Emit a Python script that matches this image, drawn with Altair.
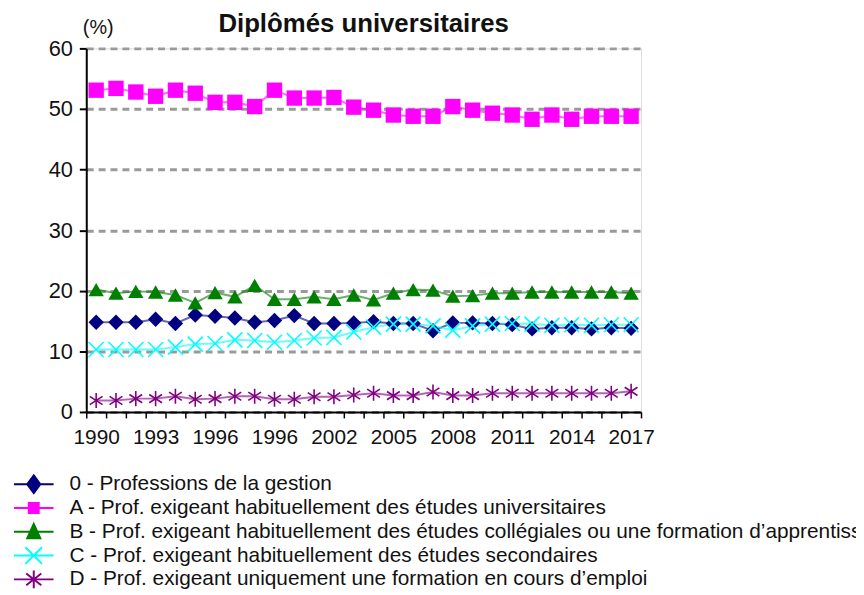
import altair as alt
import pandas as pd

years = [1990, 1991, 1992, 1993, 1994, 1995, 1996, 1997, 1998, 1999,
         2000, 2001, 2002, 2003, 2004, 2005, 2006, 2007, 2008, 2009,
         2010, 2011, 2012, 2013, 2014, 2015, 2016, 2017]

series_names = [
    "0 - Professions de la gestion",
    "A - Prof. exigeant habituellement des études universitaires",
    "B - Prof. exigeant habituellement des études collégiales ou une formation d’apprentissage",
    "C - Prof. exigeant habituellement des études secondaires",
    "D - Prof. exigeant uniquement une formation en cours d’emploi",
]

gestion = [14.8, 14.8, 14.8, 15.3, 14.6, 16.0, 15.8, 15.5, 14.8, 15.1,
           15.9, 14.6, 14.6, 14.7, 14.9, 14.6, 14.6, 13.4, 14.7, 14.7,
           14.6, 14.4, 13.7, 13.9, 13.9, 13.7, 13.9, 13.8]
niveau_a = [53.1, 53.4, 52.8, 52.1, 53.1, 52.6, 51.1, 51.1, 50.4, 53.1,
            51.8, 51.8, 51.9, 50.3, 49.8, 49.0, 48.8, 48.8, 50.4, 49.8,
            49.3, 49.0, 48.3, 49.0, 48.3, 48.8, 48.8, 48.8]
niveau_b = [20.2, 19.6, 19.9, 19.8, 19.3, 18.0, 19.7, 19.0, 20.9, 18.6,
            18.6, 19.0, 18.6, 19.3, 18.5, 19.6, 20.2, 20.1, 19.1, 19.2,
            19.6, 19.6, 19.8, 19.8, 19.8, 19.8, 19.8, 19.6]
niveau_c = [10.3, 10.3, 10.3, 10.3, 10.7, 11.2, 11.3, 11.9, 11.8, 11.5,
            11.8, 12.2, 12.3, 13.2, 14.0, 14.5, 14.5, 14.2, 13.5, 14.2,
            14.5, 14.6, 14.5, 14.3, 14.4, 14.3, 14.4, 14.4]
niveau_d = [1.9, 1.9, 2.2, 2.2, 2.6, 2.1, 2.2, 2.6, 2.6, 2.1,
            2.1, 2.5, 2.5, 2.8, 3.1, 2.7, 2.7, 3.3, 2.7, 2.7,
            3.1, 3.1, 3.1, 3.1, 3.1, 3.1, 3.1, 3.4]

tick_years = [1990, 1993, 1996, 1999, 2002, 2005, 2008, 2011, 2014, 2017]
tick_labels = ["1990", "1993", "1996", "1996", "2002", "2005", "2008", "2011", "2014", "2017"]

colors = ["#000080", "#FF00FF", "#008000", "#00FFFF", "#800080"]
filled_flags = [True, True, True, False, False]
shapes = [
    "diamond",
    "square",
    "triangle-up",
    "M-1,-1L1,1M-1,1L1,-1",
    "M-0.85,-0.55L0.85,0.55M-0.85,0.55L0.85,-0.55M0,-1V1",
]
legend_paths = [
    "M-1,0H1M0,-0.45L0.33,0L0,0.45L-0.33,0Z",
    "M-1,0H1M-0.25,-0.25H0.25V0.25H-0.25Z",
    "M-1,0H1M0,-0.4L0.33,0.33L-0.33,0.33Z",
    "M-1,0H1M-0.42,-0.42L0.42,0.42M-0.42,0.42L0.42,-0.42",
    "M-1,0H1M-0.38,-0.3L0.38,0.3M-0.38,0.3L0.38,-0.3M0,-0.45V0.45",
]

rows = []
for name, vals in zip(series_names, [gestion, niveau_a, niveau_b, niveau_c, niveau_d]):
    for yr, v in zip(years, vals):
        rows.append({"year": yr, "value": v, "series": name})
df = pd.DataFrame(rows)

FONT = "Liberation Sans"

label_expr = "indexof([{}], datum.value) >= 0 ? [{}][indexof([{}], datum.value)] : ''".format(
    ",".join(str(y) for y in tick_years),
    ",".join("'" + s + "'" for s in tick_labels),
    ",".join(str(y) for y in tick_years),
)

shape_expr = "[{}][indexof(domain('color'), datum.value)]".format(
    ",".join("'" + p + "'" for p in legend_paths)
)
color_expr = "scale('color', datum.value)"

x_enc = alt.X(
    "year:O",
    scale=alt.Scale(type="band", paddingInner=0, paddingOuter=0),
    axis=alt.Axis(
        title=None, labelAngle=0, labelExpr=label_expr, labelOverlap=False,
        tickBand="extent", tickSize=6, tickColor="black", tickWidth=1.5,
        domainColor="black", domainWidth=2, labelFont=FONT, labelFontSize=21,
        labelColor="#111111", labelPadding=9, grid=False,
    ),
)
y_enc = alt.Y(
    "value:Q",
    scale=alt.Scale(domain=[0, 60], nice=False, zero=True),
    axis=alt.Axis(
        values=[0, 10, 20, 30, 40, 50, 60], grid=True, gridDash=[7, 5],
        gridColor="#9a9a9a", gridWidth=3, domainColor="black", domainWidth=2,
        tickColor="black", tickWidth=2, tickSize=7, labelFont=FONT,
        labelFontSize=22, labelColor="#111111", labelPadding=7, labelFlush=False,
        title="(%)", titleAngle=0, titleX=-4, titleY=-21, titleAlign="left",
        titleBaseline="middle", titleFont=FONT, titleFontSize=20,
        titleFontWeight="normal", titleColor="#111111",
    ),
)

color_enc = alt.Color(
    "series:N",
    sort=series_names,
    scale=alt.Scale(domain=series_names, range=colors),
    legend=alt.Legend(
        title=None, orient="none", legendX=-74, legendY=428, direction="vertical",
        labelFont=FONT, labelFontSize=21, labelColor="#111111", labelLimit=2000,
        labelOffset=15, clipHeight=24, rowPadding=0, padding=0, symbolSize=1600,
        symbolType=alt.ExprRef(expr=shape_expr),
        symbolFillColor=alt.ExprRef(expr=color_expr),
        symbolStrokeColor=alt.ExprRef(expr=color_expr),
        symbolStrokeWidth=2, symbolOpacity=1,
    ),
)

lines = alt.Chart(df).mark_line(strokeWidth=2, opacity=0.6).encode(
    x=x_enc, y=y_enc, color=color_enc,
)

point_layers = []
for name, shp, fl in zip(series_names, shapes, filled_flags):
    point_layers.append(
        alt.Chart(df).transform_filter(alt.datum.series == name).mark_point(
            shape=shp, filled=fl, strokeWidth=1.6, opacity=1, size=240 if fl else 230,
        ).encode(x=x_enc, y=y_enc, color=color_enc)
    )

chart = alt.layer(lines, *point_layers).properties(
    width=560,
    height=367,
    title=alt.TitleParams(
        "Diplômés universitaires", font=FONT, fontSize=26, fontWeight="bold",
        anchor="middle", offset=-19, color="#111111",
    ),
    autosize=alt.AutoSizeParams(type="none"),
    padding={"left": 79, "top": 38, "right": 217, "bottom": 182},
).configure_view(stroke=None).configure(background="white")

chart.save("out.html", embed_options={"renderer": "svg", "actions": False})
